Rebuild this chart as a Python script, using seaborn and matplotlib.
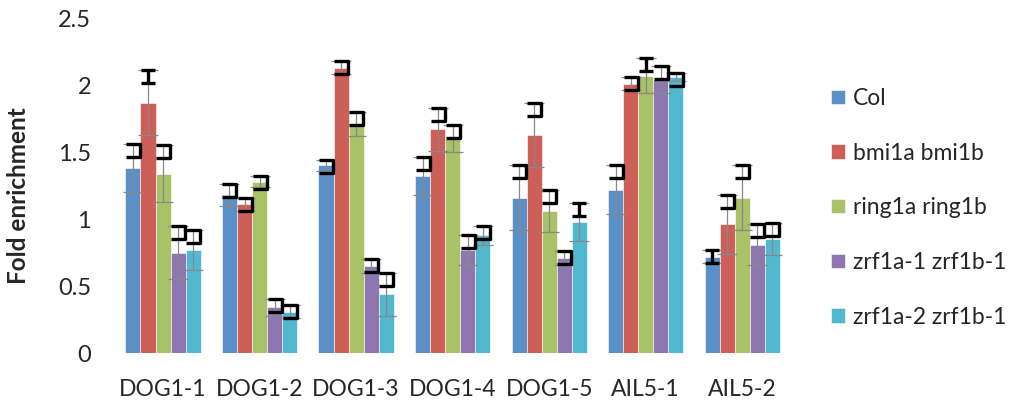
import numpy as np
import pandas as pd
import matplotlib
matplotlib.use("Agg")
import matplotlib.pyplot as plt
from matplotlib.path import Path
import seaborn as sns

loci = ["DOG1-1", "DOG1-2", "DOG1-3", "DOG1-4", "DOG1-5", "AIL5-1", "AIL5-2"]
genotypes = ["Col", "bmi1a bmi1b", "ring1a ring1b", "zrf1a-1 zrf1b-1", "zrf1a-2 zrf1b-1"]

col = [1.38, 1.18, 1.40, 1.32, 1.16, 1.22, 0.72]
bmi = [1.87, 1.11, 2.13, 1.67, 1.63, 2.01, 0.96]
ring = [1.34, 1.28, 1.71, 1.60, 1.06, 2.07, 1.16]
zrf1 = [0.75, 0.34, 0.65, 0.77, 0.71, 2.04, 0.81]
zrf2 = [0.77, 0.31, 0.44, 0.88, 0.98, 2.06, 0.85]

col_err = [0.18, 0.08, 0.04, 0.14, 0.24, 0.18, 0.05]
bmi_err = [0.24, 0.05, 0.05, 0.16, 0.24, 0.05, 0.22]
ring_err = [0.21, 0.04, 0.09, 0.10, 0.16, 0.13, 0.24]
zrf1_err = [0.20, 0.06, 0.05, 0.11, 0.05, 0.10, 0.15]
zrf2_err = [0.15, 0.05, 0.16, 0.07, 0.14, 0.03, 0.12]

colors = ["#5A8FC8", "#CE5E58", "#A9C267", "#8F76B0", "#52B8CF"]

values = [col, bmi, ring, zrf1, zrf2]
errors = [col_err, bmi_err, ring_err, zrf1_err, zrf2_err]

rows = []
for g, vals in zip(genotypes, values):
    for l, v in zip(loci, vals):
        rows.append({"locus": l, "genotype": g, "enrichment": v})
df = pd.DataFrame(rows)

sns.set_style("white")
plt.rcParams["font.family"] = ["Lato", "DejaVu Sans"]

fig = plt.figure(figsize=(10.16, 4.03), dpi=100)
ax = fig.add_axes([0.113, 0.124, 0.665, 0.831])

sns.barplot(data=df, x="locus", y="enrichment", hue="genotype", order=loci,
            hue_order=genotypes, palette=colors, errorbar=None, width=0.78,
            edgecolor="white", linewidth=0.4, saturation=1, ax=ax)

# bracket-looking caps like the original export
bracket = Path([(-1, 0), (1, 0), (1, -2), (-1, -2)],
               [Path.MOVETO, Path.LINETO, Path.LINETO, Path.LINETO])
ibeam = Path([(-1, 0), (1, 0), (0, 0), (0, -2), (-1, -2), (1, -2)],
             [Path.MOVETO, Path.LINETO, Path.MOVETO, Path.LINETO, Path.MOVETO, Path.LINETO])
ibeam_spots = [(1, 0), (4, 4), (2, 5), (0, 6)]

bar_groups = list(ax.containers)
for i, cont in enumerate(bar_groups):
    xs = [b.get_x() + b.get_width() / 2 for b in cont]
    ax.errorbar(xs, values[i], yerr=errors[i], fmt="none", ecolor="#888888",
                elinewidth=0.9, capsize=7, capthick=0.9, zorder=3)
    for j, x in enumerate(xs):
        m = ibeam if (i, j) in ibeam_spots else bracket
        ax.plot(x, values[i][j] + errors[i][j], marker=m, markersize=19,
                markerfacecolor="none", markeredgecolor="black",
                markeredgewidth=2.4, zorder=4)

ax.set_ylim(0, 2.5)
ax.set_xlim(-0.5, 6.5)
ax.set_yticks([0, 0.5, 1, 1.5, 2, 2.5])
ax.set_yticklabels(["0", "0.5", "1", "1.5", "2", "2.5"])
ax.tick_params(axis="y", length=0, pad=17, labelsize=17)
ax.tick_params(axis="x", length=0, pad=19, labelsize=16.5)
for s in ax.spines.values():
    s.set_visible(False)
ax.set_xlabel("")
ax.set_ylabel("Fold enrichment", fontsize=17.5, fontweight="bold")
ax.yaxis.set_label_coords(-0.125, 0.469)

ax.legend(loc="upper left", bbox_to_anchor=(0.798, 0.833),
          bbox_transform=fig.transFigure, frameon=False, fontsize=16.5,
          handlelength=0.6, handleheight=0.6, handletextpad=0.35,
          labelspacing=1.47)

fig.savefig("out.png", dpi=100)
